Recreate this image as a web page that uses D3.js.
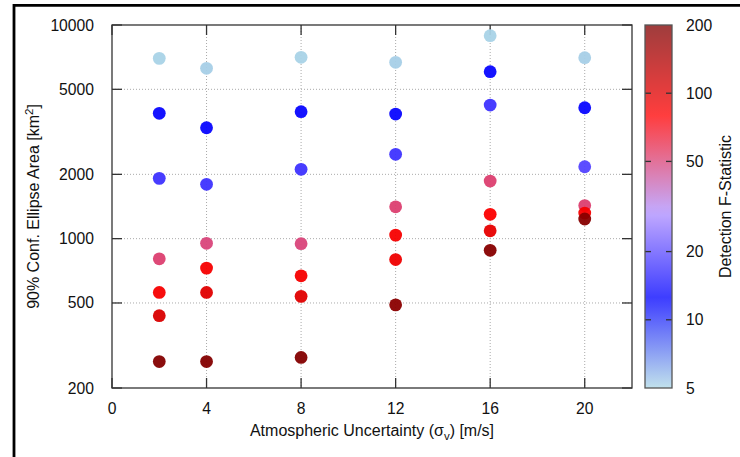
<!DOCTYPE html>
<html>
<head>
<meta charset="utf-8">
<script src="https://cdn.jsdelivr.net/npm/d3@7"></script>
<style>
  html, body { margin: 0; padding: 0; background: #fff; }
  svg { display: block; font-family: "Liberation Sans", Arial, Helvetica, sans-serif; }
</style>
</head>
<body>
<svg id="chart" width="740" height="457"></svg>
<script>
// Atmospheric uncertainty sigma_v [m/s] for each run
const sigmaV = [
  2, 2, 2, 2, 2, 2, 2,
  4, 4, 4, 4, 4, 4, 4,
  8, 8, 8, 8, 8, 8, 8,
  12, 12, 12, 12, 12, 12, 12,
  16, 16, 16, 16, 16, 16, 16,
  20, 20, 20, 20, 20, 20
];
// 90% confidence ellipse area [km^2]
const ellipseArea = [
  6980, 3860, 1915, 805, 560, 436, 266,
  6270, 3305, 1796, 951, 728, 560, 266,
  7060, 3928, 2111, 947, 670, 537, 278,
  6690, 3831, 2481, 1410, 1039, 798, 490,
  8910, 6045, 4221, 1861, 1300, 1088, 882,
  7030, 4100, 2171, 1429, 1318, 1236
];
// Detection F-statistic (colour)
const fStat = [
  5.1, 13, 17, 52, 85, 105, 195,
  5.2, 13, 17, 50, 85, 100, 195,
  5.1, 13, 17, 50, 85, 100, 195,
  5.2, 13, 17, 52, 85, 90, 185,
  5.1, 13, 17, 52, 82, 95, 190,
  5.2, 13, 19, 52, 85, 190
];

const xTicks = [0, 4, 8, 12, 16, 20];
const yTicks = [200, 500, 1000, 2000, 5000, 10000];
const cbTicks = [5, 10, 20, 50, 100, 200];

// palette control points (F value -> colour)
const paletteF = [5, 12.5, 30, 80, 200];
const paletteColors = ["#add8e6", "#0000ff", "#b090ff", "#ff0000", "#800000"];

const svg = d3.select("#chart");
const plot = { left: 112, right: 632, top: 25, bottom: 388 };
const cbar = { left: 645, right: 672 };
const ink = "#111";
const axisColor = "#333";
const tickFont = 15.7;
const titleFont = 16;

const x = d3.scaleLinear().domain([0, 22]).range([plot.left, plot.right]);
const y = d3.scaleLog().domain([200, 10000]).range([plot.bottom, plot.top]);
const cY = d3.scaleLog().domain([5, 200]).range([plot.bottom, plot.top]);

const logF = d3.scaleLinear()
  .domain(paletteF.map(Math.log10))
  .range(paletteColors)
  .interpolate(d3.interpolateRgb)
  .clamp(true);
const colorOf = v => logF(Math.log10(v));

// page frame edges
svg.append("line").attr("x1", 14).attr("x2", 14).attr("y1", 4).attr("y2", 457)
  .attr("stroke", "#000").attr("stroke-width", 2.8);
svg.append("line").attr("x1", 13).attr("x2", 740).attr("y1", 5.3).attr("y2", 5.3)
  .attr("stroke", "#000").attr("stroke-width", 2.8);

// grid
const grid = svg.append("g").attr("stroke", "#aaa").attr("stroke-width", 1)
  .attr("stroke-dasharray", "1,2");
grid.selectAll(".gx").data(xTicks.filter(t => t > 0)).join("line")
  .attr("x1", d => x(d)).attr("x2", d => x(d))
  .attr("y1", plot.top).attr("y2", plot.bottom);
grid.selectAll(".gy").data(yTicks.filter(t => t > 200 && t < 10000)).join("line")
  .attr("x1", plot.left).attr("x2", plot.right)
  .attr("y1", d => y(d)).attr("y2", d => y(d));

// axes: ticks drawn inward on all four sides
const axG = svg.append("g").attr("stroke", axisColor).attr("stroke-width", 1.3);
const tl = 10;
xTicks.forEach(t => {
  axG.append("line").attr("x1", x(t)).attr("x2", x(t)).attr("y1", plot.bottom).attr("y2", plot.bottom - tl);
  axG.append("line").attr("x1", x(t)).attr("x2", x(t)).attr("y1", plot.top).attr("y2", plot.top + tl);
});
yTicks.forEach(t => {
  axG.append("line").attr("x1", plot.left).attr("x2", plot.left + tl).attr("y1", y(t)).attr("y2", y(t));
  axG.append("line").attr("x1", plot.right).attr("x2", plot.right - tl).attr("y1", y(t)).attr("y2", y(t));
});
svg.append("rect").attr("x", plot.left).attr("y", plot.top)
  .attr("width", plot.right - plot.left).attr("height", plot.bottom - plot.top)
  .attr("fill", "none").attr("stroke", axisColor).attr("stroke-width", 1.3);

// tick labels
svg.append("g").selectAll("text").data(xTicks).join("text")
  .attr("x", d => x(d)).attr("y", 414)
  .attr("text-anchor", "middle").attr("font-size", tickFont).attr("fill", ink)
  .text(d => d);
svg.append("g").selectAll("text").data(yTicks).join("text")
  .attr("x", 94).attr("y", d => y(d) + 5.5)
  .attr("text-anchor", "end").attr("font-size", tickFont).attr("fill", ink)
  .text(d => d);

// axis titles
const xt = svg.append("text").attr("x", (plot.left + plot.right) / 2).attr("y", 436)
  .attr("text-anchor", "middle").attr("font-size", titleFont).attr("fill", ink);
xt.append("tspan").text("Atmospheric Uncertainty (σ");
xt.append("tspan").attr("font-size", 11.5).attr("dy", 4).text("v");
xt.append("tspan").attr("dy", -4).text(") [m/s]");

const yt = svg.append("text")
  .attr("transform", `translate(39,${(plot.top + plot.bottom) / 2}) rotate(-90)`)
  .attr("text-anchor", "middle").attr("font-size", titleFont).attr("fill", ink);
yt.append("tspan").text("90% Conf. Ellipse Area [km");
yt.append("tspan").attr("font-size", 11.5).attr("dy", -6).text("2");
yt.append("tspan").attr("dy", 6).text("]");

// data points
svg.append("g").selectAll("circle")
  .data(sigmaV.map((s, i) => ({ s, a: ellipseArea[i], f: fStat[i] })))
  .join("circle")
  .attr("cx", d => x(d.s)).attr("cy", d => y(d.a)).attr("r", 6.4)
  .attr("fill", d => colorOf(d.f)).attr("fill-opacity", 0.95);

// colour bar
const defs = svg.append("defs");
const grad = defs.append("linearGradient").attr("id", "cbGrad")
  .attr("x1", 0).attr("x2", 0).attr("y1", 1).attr("y2", 0);
d3.range(0, 41).forEach(i => {
  const v = 5 * Math.pow(40, i / 40);
  grad.append("stop").attr("offset", i / 40).attr("stop-color", colorOf(v));
});
svg.append("rect").attr("x", cbar.left).attr("y", plot.top)
  .attr("width", cbar.right - cbar.left).attr("height", plot.bottom - plot.top)
  .attr("fill", "url(#cbGrad)").attr("fill-opacity", 0.76);
const cbG = svg.append("g").attr("stroke", axisColor).attr("stroke-width", 1.3);
cbTicks.filter(t => t > 5 && t < 200).forEach(t => {
  cbG.append("line").attr("x1", cbar.left).attr("x2", cbar.left + 6).attr("y1", cY(t)).attr("y2", cY(t));
  cbG.append("line").attr("x1", cbar.right).attr("x2", cbar.right - 6).attr("y1", cY(t)).attr("y2", cY(t));
});
svg.append("rect").attr("x", cbar.left).attr("y", plot.top)
  .attr("width", cbar.right - cbar.left).attr("height", plot.bottom - plot.top)
  .attr("fill", "none").attr("stroke", "#555").attr("stroke-width", 1.3);
svg.append("g").selectAll("text").data(cbTicks).join("text")
  .attr("x", 686).attr("y", d => cY(d) + 5.5)
  .attr("font-size", tickFont).attr("fill", ink).text(d => d);
svg.append("text")
  .attr("transform", `translate(731,${(plot.top + plot.bottom) / 2}) rotate(-90)`)
  .attr("text-anchor", "middle").attr("font-size", titleFont).attr("fill", ink)
  .text("Detection F-Statistic");
</script>
</body>
</html>
